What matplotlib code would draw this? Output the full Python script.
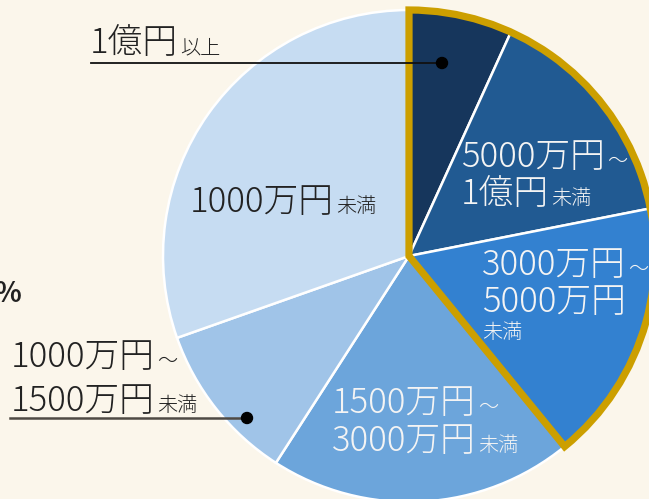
import matplotlib
matplotlib.use("Agg")
import matplotlib.pyplot as plt
from matplotlib.patches import Wedge, Circle

plt.rcParams['font.family'] = ['Noto Sans CJK JP', 'DejaVu Sans']

categories = ["1億円以上", "5000万円～1億円未満", "3000万円～5000万円未満",
              "1500万円～3000万円未満", "1000万円～1500万円未満", "1000万円未満"]
values = [6.8, 15.1, 17.2, 20.0, 10.5, 30.4]
colors = ["#16365C", "#215A92", "#3381D0", "#6CA5DB", "#A0C4E8", "#C6DCF2"]
highlight_n = 3  # first three slices outlined in gold

BG = "#FBF6EB"
GOLD = "#CC9F00"

W, H = 649, 499
fig = plt.figure(figsize=(W / 100, H / 100), dpi=100, facecolor=BG)
ax = fig.add_axes([0, 0, 1, 1])
ax.set_facecolor(BG)

cx, cy, R = 409, H - 256, 246
wedges, _ = ax.pie(values, colors=colors, startangle=90, counterclock=False,
                   center=(cx, cy), radius=R, frame=True,
                   wedgeprops=dict(edgecolor="white", linewidth=1.8))
ax.set_xlim(0, W)
ax.set_ylim(0, H)
ax.set_aspect("equal")
ax.axis("off")

# gold outline around the top slices
span = sum(values[:highlight_n]) / sum(values) * 360
gold = Wedge((cx, cy), R, 90 - span, 90, facecolor="none", edgecolor=GOLD,
             linewidth=5.2, joinstyle="miter", zorder=5)
ax.add_patch(gold)

fig.canvas.draw()
renderer = fig.canvas.get_renderer()

BIG = 25
SMALL = 14.5
LIGHT = "light"


def label(x, y, main, small="", color="#222222"):
    """x, y in pixel coordinates from top-left, baseline."""
    t = ax.text(x, H - y, main, fontsize=BIG, color=color, va="baseline",
                ha="left", fontweight=LIGHT, zorder=10)
    if small:
        bb = t.get_window_extent(renderer)
        ax.text(bb.x1 + 2, H - y, small, fontsize=SMALL, color=color,
                va="baseline", ha="left", fontweight=LIGHT, zorder=10)
    return t


WHITE = "#F4F4F4"
# 1億円以上
label(90, 53, "1億円", "以上")
ax.plot([91, 442], [H - 63, H - 63], color="#111111", lw=1.3, zorder=11)
ax.add_patch(Circle((442, H - 63), 5.5, color="#000000", zorder=12))

# 1000万円未満
label(190, 212, "1000万円", "未満")

# 5000万円~1億円未満
label(461, 167, "5000万円", "〜", WHITE)
label(461, 204, "1億円", "未満", WHITE)

# 3000万円~5000万円未満
label(482, 275, "3000万円", "〜", WHITE)
label(482, 312, "5000万円", "", WHITE)
ax.text(482, H - 338, "未満", fontsize=SMALL, color=WHITE, va="baseline",
        ha="left", fontweight=LIGHT, zorder=10)

# 1500万円~3000万円未満
label(332, 413, "1500万円", "〜", WHITE)
label(332, 451, "3000万円", "未満", WHITE)

# 1000万円~1500万円未満
label(11, 367, "1000万円", "〜")
label(11, 411, "1500万円", "未満")
ax.plot([10, 247], [H - 418, H - 418], color="#4F4A44", lw=1.8, zorder=11)
ax.add_patch(Circle((247, H - 418), 5.5, color="#000000", zorder=12))

# cut-off percentage at left edge
ax.text(21, H - 302, "%", fontsize=20, color="#222222", va="baseline",
        ha="right", fontweight="bold", zorder=10)

fig.savefig("out.png", dpi=100, facecolor=BG)
